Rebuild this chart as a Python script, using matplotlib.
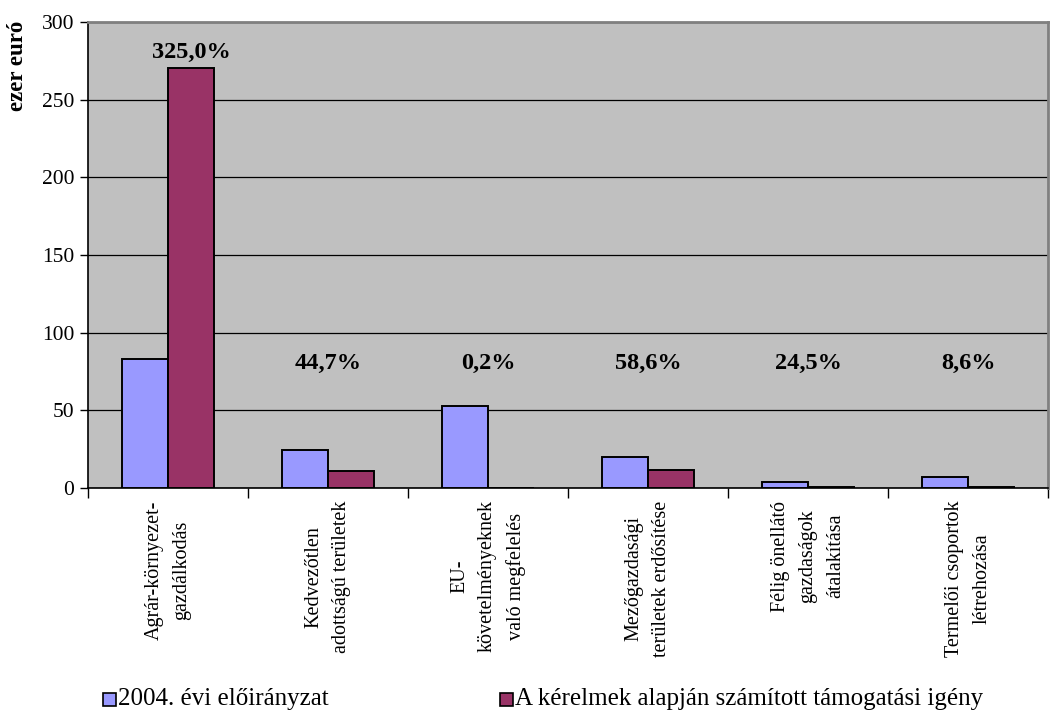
import matplotlib
matplotlib.use("Agg")
import matplotlib.pyplot as plt
from matplotlib.patches import Rectangle
import numpy as np

categories = [
    "Agrár-környezet-\ngazdálkodás",
    "Kedvezőtlen\nadottságú területek",
    "EU-\nkövetelményeknek\nvaló megfelelés",
    "Mezőgazdasági\nterületek erdősítése",
    "Félig önellátó\ngazdaságok\nátalakítása",
    "Termelői csoportok\nlétrehozása",
]
series_names = ["2004. évi előirányzat", "A kérelmek alapján számított támogatási igény"]
budget_2004 = [83.2, 24.6, 52.5, 19.8, 3.9, 7.3]
demand = [270.5, 11.0, 0.1, 11.6, 0.95, 0.63]
pct_labels = ["325,0%", "44,7%", "0,2%", "58,6%", "24,5%", "8,6%"]
yticks = [0, 50, 100, 150, 200, 250, 300]
ylabel = "ezer euró"

colors = ["#9999FF", "#993366"]
plt.rcParams["font.family"] = ["Liberation Serif", "DejaVu Serif"]

W, H = 1054, 716
fig = plt.figure(figsize=(W / 100, H / 100), dpi=100)
L, R, T, B = 88, 1048, 22, 488
ax = fig.add_axes([L / W, 1 - B / H, (R - L) / W, (B - T) / H])
ax.set_facecolor("#C0C0C0")

x = np.arange(len(categories))
w = 0.2875
ax.bar(x - w / 2, budget_2004, w, color=colors[0], edgecolor="black", linewidth=1.4, zorder=3)
ax.bar(x + w / 2, demand, w, color=colors[1], edgecolor="black", linewidth=1.4, zorder=3)

ax.set_xlim(-0.5, len(categories) - 0.5)
ax.set_ylim(0, 300)
ax.set_yticks(yticks)
ax.set_yticklabels([str(v) for v in yticks], fontsize=15.5)
ax.yaxis.grid(True, color="black", linewidth=0.9, zorder=1)
ax.set_axisbelow(True)
ax.tick_params(axis="y", length=6, width=1, direction="out", pad=4)

# category labels at centers, tick marks at boundaries
ax.set_xticks(x)
ax.set_xticklabels(categories, rotation=90, fontsize=14.5, ha="center", va="top",
                   multialignment="center", linespacing=1.6)
ax.tick_params(axis="x", length=0, pad=9)
ax.set_xticks(np.arange(-0.5, len(categories) + 0.5, 1), minor=True)
ax.tick_params(axis="x", which="minor", length=7, width=1, direction="out")

for s in ["left", "bottom"]:
    ax.spines[s].set_color("black")
    ax.spines[s].set_linewidth(1.2)
for s in ["top", "right"]:
    ax.spines[s].set_color("#808080")
    ax.spines[s].set_linewidth(2)

# percentage labels
for i, lab in enumerate(pct_labels):
    if demand[i] > 100:
        ax.text(x[i] + w / 2, demand[i] + 10, lab, ha="center", va="center",
                fontsize=17.5, fontweight="bold", zorder=4)
    else:
        ax.text(x[i], 80.5, lab, ha="center", va="center",
                fontsize=17.5, fontweight="bold", zorder=4)

fig.text(18 / W, 1 - 66 / H, ylabel, rotation=90, ha="center", va="center",
         fontsize=16.5, fontweight="bold")

# legend
leg_x = [103, 500]
for i, name in enumerate(series_names):
    fig.patches.append(Rectangle((leg_x[i] / W, 1 - 706 / H), 13 / W, 13 / H,
                                 transform=fig.transFigure, facecolor=colors[i],
                                 edgecolor="black", linewidth=1.2))
    fig.text((leg_x[i] + 15) / W, 1 - 699 / H, name, ha="left", va="center", fontsize=18)

fig.savefig("out.png", dpi=100)
